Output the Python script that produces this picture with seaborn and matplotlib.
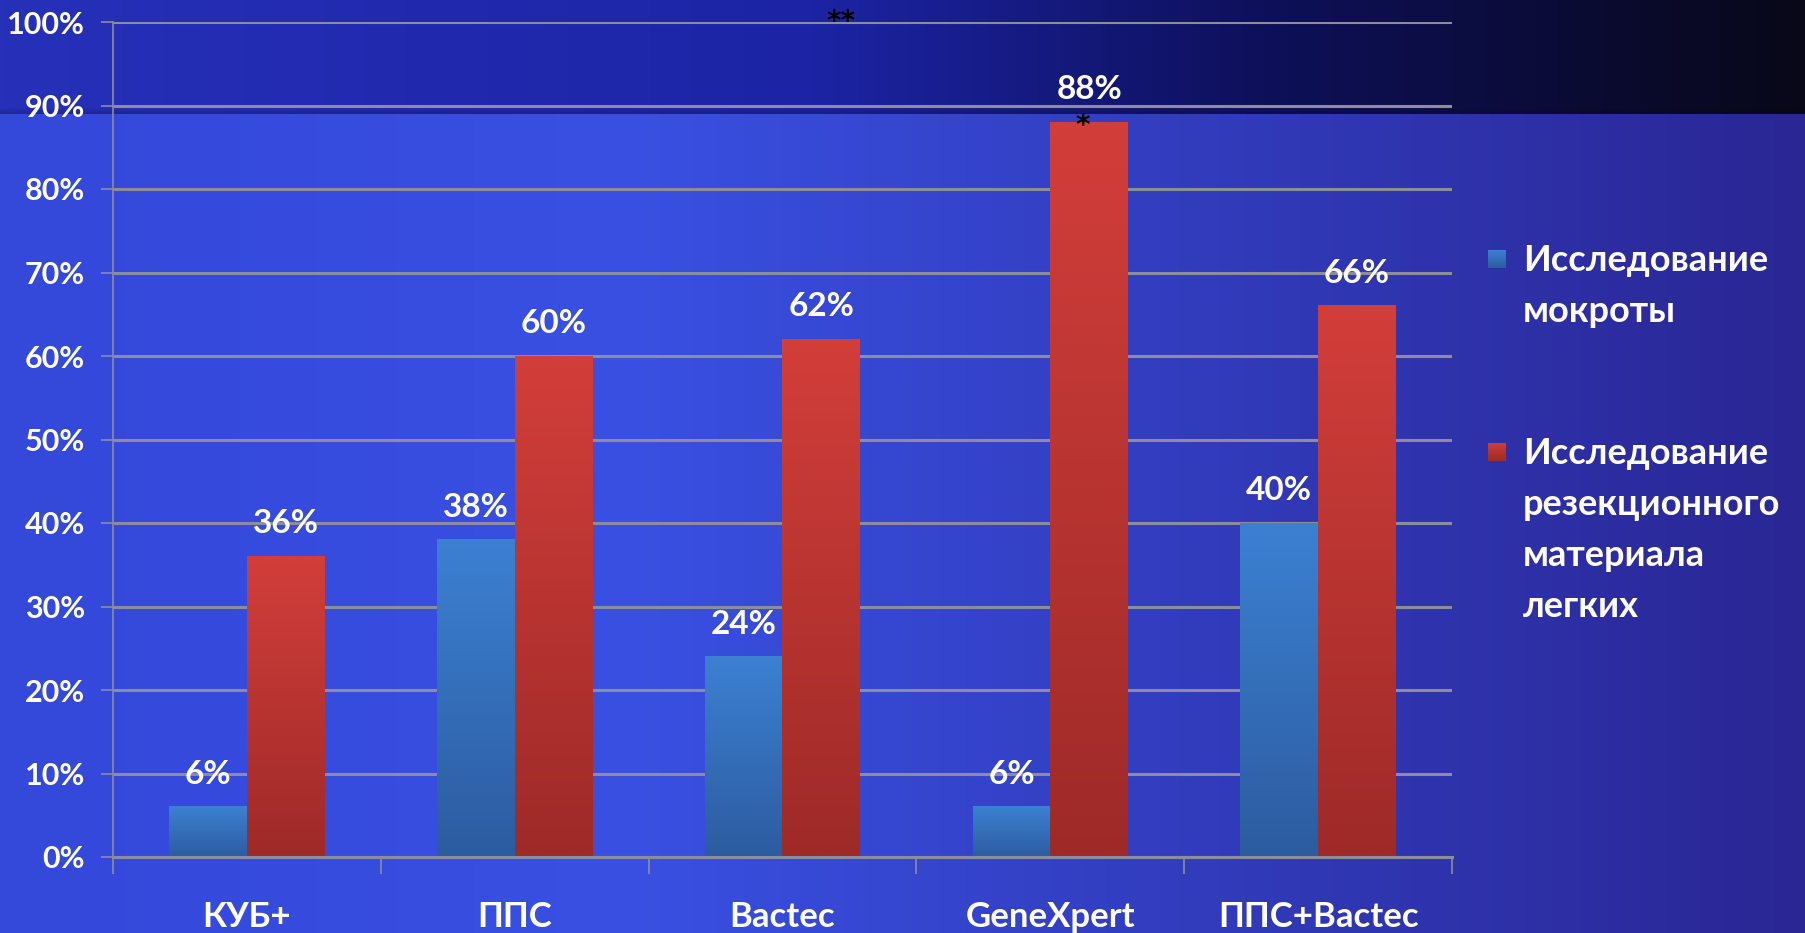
import numpy as np
import pandas as pd
import matplotlib
matplotlib.use("Agg")
import matplotlib.pyplot as plt
import seaborn as sns

# -------------------------
# Datos
# -------------------------
categories = ["КУБ+", "ППС", "Bactec", "GeneXpert", "ППС+Bactec"]
sputum = [6, 38, 24, 6, 40]
resection = [36, 60, 62, 88, 66]
series_names = ["Исследование\nмокроты",
                "Исследование\nрезекционного\nматериала\nлегких"]
y_ticks = [0, 10, 20, 30, 40, 50, 60, 70, 80, 90, 100]

df = pd.DataFrame({
    "cat": categories * 2,
    "val": sputum + resection,
    "serie": [series_names[0]] * len(sputum) + [series_names[1]] * len(resection),
})

sns.set_theme(style="white")
plt.rcParams["font.family"] = ["Lato", "DejaVu Sans"]
plt.rcParams["font.weight"] = "bold"

W, H = 1806, 933
fig = plt.figure(figsize=(W / 100, H / 100), dpi=100)

# -------------------------
# Fondo degradado
# -------------------------
bg = fig.add_axes([0, 0, 1, 1])
xs = np.linspace(0, 1, 400)
main_l = np.array([52, 72, 218]) / 255
main_c = np.array([57, 80, 226]) / 255
main_r = np.array([42, 38, 148]) / 255
top_l = np.array([38, 48, 185]) / 255
top_m = np.array([28, 36, 165]) / 255
top_r = np.array([8, 8, 24]) / 255

def ramp(x, stops, cols):
    return np.stack([np.interp(x, stops, [c[i] for c in cols]) for i in range(3)], axis=1)

main_row = ramp(xs, [0, 0.35, 1], [main_l, main_c, main_r])
top_row = ramp(xs, [0, 0.45, 0.7, 1], [top_l, top_m, np.array([14, 16, 90]) / 255, top_r])
band = 114
img = np.zeros((H, 400, 3))
img[:band] = top_row
img[band:] = main_row
# sombra suave en el borde de la banda superior
for k in range(6):
    img[band - 6 + k] = top_row * (0.97 - 0.03 * k)
bg.imshow(img, aspect="auto", extent=[0, 1, 0, 1], interpolation="nearest")
bg.set_axis_off()

# -------------------------
# Barras
# -------------------------
ax = fig.add_axes([113 / W, 76 / H, 1339 / W, 835 / H])
ax.set_facecolor("none")
sns.barplot(data=df, x="cat", y="val", hue="serie", order=categories,
            hue_order=series_names, palette=["#3a78c8", "#c83a36"],
            width=0.58, ax=ax, legend=False, saturation=1)

grads = [
    (np.array([60, 128, 210]) / 255, np.array([44, 92, 160]) / 255),
    (np.array([210, 62, 58]) / 255, np.array([158, 42, 40]) / 255),
]

def grad_img(top_c, bot_c):
    g = np.linspace(0, 1, 64)[:, None]
    return (top_c * (1 - g) + bot_c * g)[:, None, :]

for i, cont in enumerate(ax.containers):
    for p in cont.patches:
        x0, w, h = p.get_x(), p.get_width(), p.get_height()
        ax.imshow(grad_img(*grads[i]), extent=[x0, x0 + w, 0, h], aspect="auto",
                  zorder=2, interpolation="bilinear")
        p.set_alpha(0)
    ax.bar_label(cont, labels=[f"{int(v)}%" for v in cont.datavalues],
                 padding=13, color="white", fontsize=24, fontweight="bold")

ax.set_xlim(-0.5, len(categories) - 0.5)
ax.set_ylim(0, 100)
ax.set_yticks(y_ticks)
ax.set_yticklabels([f"{t}%" for t in y_ticks])
ax.yaxis.grid(True, color="#8c8c9c", lw=2.2, zorder=1)
ax.set_axisbelow(True)
for s in ["top", "right"]:
    ax.spines[s].set_visible(False)
ax.spines["left"].set_color("#8c8c9c")
ax.spines["left"].set_linewidth(1.2)
ax.spines["bottom"].set_color("#8c8c9c")
ax.spines["bottom"].set_linewidth(2.2)
ax.tick_params(axis="y", colors="#8c8c9c", length=9, width=1.2, labelcolor="white",
               labelsize=22, pad=11, left=True)
ax.tick_params(axis="x", length=0, labelcolor="white", labelsize=25, pad=32)
ax.set_xticks(np.arange(-0.5, len(categories), 1), minor=True)
ax.tick_params(axis="x", which="minor", length=12, width=1.2, colors="#8c8c9c", bottom=True)
for lab in ax.get_xticklabels() + ax.get_yticklabels():
    lab.set_fontweight("bold")
ax.set_xlabel("")
ax.set_ylabel("")

# asteriscos
ax.text(2.22, 100.0, "**", ha="center", va="center", color="black", fontsize=20,
        family="DejaVu Sans")
ax.text(3.12, 87.5, "*", ha="center", va="center", color="black", fontsize=20,
        family="DejaVu Sans")

# -------------------------
# Leyenda (manual)
# -------------------------
legend_baselines = [932 - 270, 932 - 463]   # px desde abajo, primera linea
line_step = 51
for k, name in enumerate(series_names):
    y0 = legend_baselines[k]
    sq = fig.add_axes([1488 / W, (y0 + 3) / H, 18 / W, 18 / H])
    sq.imshow(grad_img(*grads[k]), aspect="auto", interpolation="bilinear")
    sq.set_axis_off()
    for j, line in enumerate(name.split("\n")):
        fig.text(1523 / W, (y0 - j * line_step) / H, line, color="white",
                 fontsize=26, fontweight="bold", ha="left", va="baseline")

fig.savefig("out.png", dpi=100)
